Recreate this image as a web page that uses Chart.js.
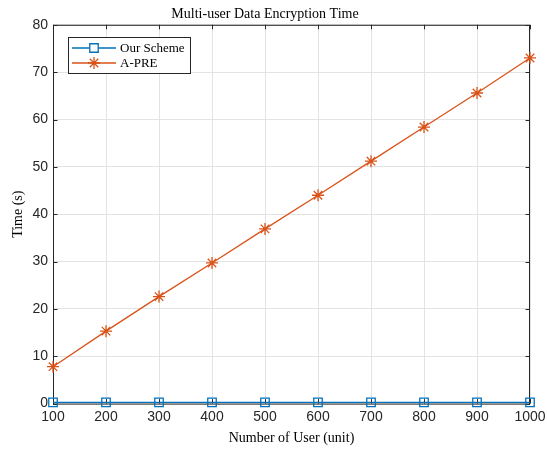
<!DOCTYPE html>
<html>
<head>
<meta charset="utf-8">
<script src="https://cdn.jsdelivr.net/npm/chart.js@4.4.1/dist/chart.umd.min.js"></script>
<style>
  html, body { margin: 0; padding: 0; background: #fff; }
  canvas { display: block; }
</style>
</head>
<body>
<canvas id="myChart" width="547" height="451"></canvas>
<script>
// values
const users = [100, 200, 300, 400, 500, 600, 700, 800, 900, 1000];
const ourScheme = [0.25, 0.25, 0.25, 0.25, 0.25, 0.25, 0.25, 0.25, 0.25, 0.25];
const aPre = [7.8, 15.3, 22.6, 29.7, 36.9, 44.0, 51.2, 58.4, 65.6, 73.0];
const seriesNames = ['Our Scheme', 'A-PRE'];

const axisColor = '#262626';
const gridColor = '#e3e3e3';
const serif = 'Liberation Serif';
const sans = 'Liberation Sans';

// matlab style box with inward ticks on all four sides
const boxPlugin = {
    id: 'box',
    beforeDatasetsDraw(chart) {
        const { ctx, chartArea: a, scales } = chart;
        ctx.save();
        ctx.strokeStyle = axisColor;
        ctx.lineWidth = 1;
        ctx.strokeRect(a.left + 0.5, a.top + 0.5, a.right - a.left - 1, a.bottom - a.top);
        const len = 4.5;
        ctx.beginPath();
        scales.x.ticks.forEach(t => {
            const px = Math.round(scales.x.getPixelForValue(t.value)) + 0.5;
            ctx.moveTo(px, a.bottom); ctx.lineTo(px, a.bottom - len);
            ctx.moveTo(px, a.top); ctx.lineTo(px, a.top + len);
        });
        scales.y.ticks.forEach(t => {
            const py = Math.round(scales.y.getPixelForValue(t.value)) + 0.5;
            ctx.moveTo(a.left, py); ctx.lineTo(a.left + len, py);
            ctx.moveTo(a.right, py); ctx.lineTo(a.right - len, py);
        });
        ctx.stroke();
        ctx.restore();
    }
};

// legend drawn like the matlab one: line + marker + label inside a box
const legendPlugin = {
    id: 'matlabLegend',
    afterDraw(chart) {
        const { ctx } = chart;
        const x = 68, y = 37, w = 122, h = 36;
        ctx.save();
        ctx.fillStyle = '#fff';
        ctx.fillRect(x, y, w, h);
        ctx.strokeStyle = axisColor;
        ctx.lineWidth = 1;
        ctx.strokeRect(x + 0.5, y + 0.5, w, h);
        chart.data.datasets.forEach((ds, i) => {
            const ry = y + 11 + i * 15;
            ctx.strokeStyle = ds.borderColor;
            ctx.lineWidth = 1.3;
            ctx.beginPath();
            ctx.moveTo(x + 4, ry); ctx.lineTo(x + 48, ry);
            ctx.stroke();
            Chart.helpers.drawPoint(ctx, {
                pointStyle: ds.pointStyle,
                radius: ds.pointRadius,
                borderWidth: ds.pointBorderWidth
            }, x + 26, ry);
            ctx.fillStyle = '#000';
            ctx.font = '13px "' + serif + '"';
            ctx.textBaseline = 'middle';
            ctx.fillText(ds.label, x + 52, ry + 1);
        });
        ctx.restore();
    }
};

const myChartRef = document.getElementById('myChart').getContext('2d');

const myLineChart = new Chart(myChartRef, {
    type: 'line',
    data: {
        labels: users,
        datasets: [{
            label: seriesNames[0],
            data: users.map((u, i) => ({ x: u, y: ourScheme[i] })),
            borderColor: '#0072BD',
            backgroundColor: 'rgba(0,0,0,0)',
            borderWidth: 1.3,
            pointStyle: 'rect',
            pointRadius: 6,
            pointBorderWidth: 1.3,
            pointBorderColor: '#0072BD',
            pointBackgroundColor: 'rgba(0,0,0,0)',
            clip: false,
            tension: 0
        }, {
            label: seriesNames[1],
            data: users.map((u, i) => ({ x: u, y: aPre[i] })),
            borderColor: '#D95319',
            backgroundColor: 'rgba(0,0,0,0)',
            borderWidth: 1.3,
            pointStyle: 'star',
            pointRadius: 6,
            pointBorderWidth: 1.3,
            pointBorderColor: '#D95319',
            pointBackgroundColor: 'rgba(0,0,0,0)',
            clip: false,
            tension: 0
        }]
    },
    options: {
        responsive: false,
        animation: false,
        devicePixelRatio: 1,
        layout: { padding: { left: 0, right: 17, top: 0, bottom: 0 } },
        plugins: {
            legend: { display: false },
            tooltip: { enabled: false },
            title: {
                display: true,
                text: 'Multi-user Data Encryption Time',
                color: '#000',
                font: { family: serif, size: 14, weight: 'normal' },
                padding: { top: 6, bottom: 2 }
            }
        },
        scales: {
            x: {
                type: 'linear',
                min: 100,
                max: 1000,
                afterFit: s => { s.height = 47.4; s.paddingLeft = 0; s.paddingRight = 0; },
                ticks: {
                    stepSize: 100,
                    color: axisColor,
                    padding: 5,
                    maxRotation: 0,
                    font: { family: sans, size: 14 },
                    callback: v => String(v)
                },
                grid: { color: gridColor, drawTicks: false },
                border: { display: false },
                title: {
                    display: true,
                    text: 'Number of User (unit)',
                    color: '#000',
                    font: { family: serif, size: 14 },
                    padding: { top: 0, bottom: 4.5 }
                }
            },
            y: {
                min: 0,
                max: 80,
                afterFit: s => { s.width = 53; },
                ticks: {
                    stepSize: 10,
                    color: axisColor,
                    padding: 5,
                    font: { family: sans, size: 14 }
                },
                grid: { color: gridColor, drawTicks: false },
                border: { display: false },
                title: {
                    display: true,
                    text: 'Time (s)',
                    color: '#000',
                    font: { family: serif, size: 14 },
                    padding: { top: 10, bottom: 0 }
                }
            }
        }
    },
    plugins: [boxPlugin, legendPlugin]
});
</script>
</body>
</html>
